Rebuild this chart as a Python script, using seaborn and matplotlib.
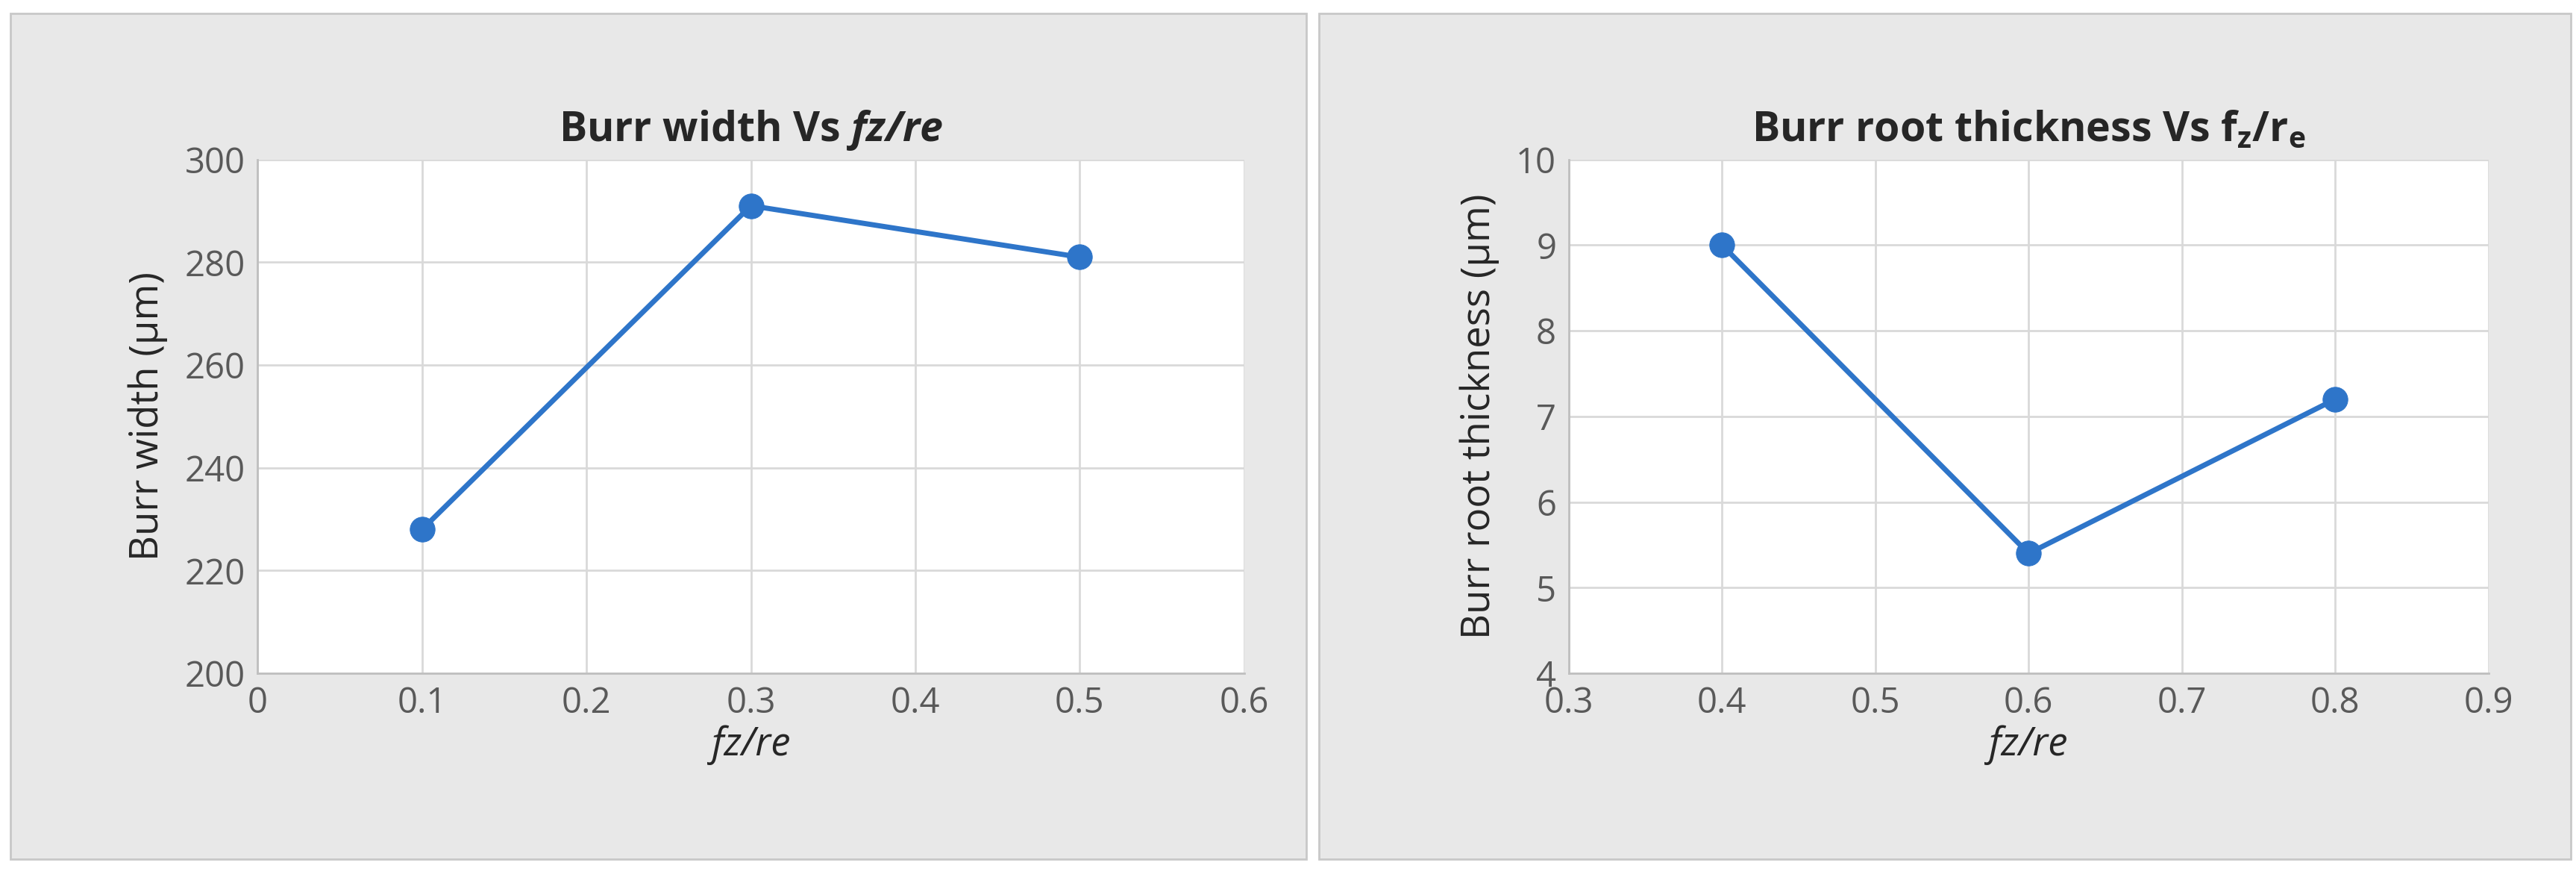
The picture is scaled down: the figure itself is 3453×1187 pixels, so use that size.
import matplotlib
matplotlib.use("Agg")
import matplotlib.pyplot as plt
import seaborn as sns
import pandas as pd
from matplotlib.patches import Rectangle

left_x = [0.1, 0.3, 0.5]
left_y = [228, 291, 281]
right_x = [0.4, 0.6, 0.8]
right_y = [9.0, 5.4, 7.2]

sns.set_theme(style="whitegrid")
plt.rcParams['font.family'] = ['Open Sans', 'DejaVu Sans']
plt.rcParams['mathtext.fontset'] = 'custom'
plt.rcParams['mathtext.rm'] = 'Open Sans'
plt.rcParams['mathtext.it'] = 'Open Sans:italic'
plt.rcParams['mathtext.bf'] = 'Open Sans:bold'
plt.rcParams['mathtext.bfit'] = 'Open Sans:italic:bold'

fig = plt.figure(figsize=(34.53, 11.87), dpi=100)
fig.patch.set_facecolor('white')
for x0, w in [(0.004, 0.503), (0.512, 0.486)]:
    fig.patches.append(Rectangle((x0, 0.03), w, 0.955, transform=fig.transFigure,
                                 facecolor='#e8e8e8', edgecolor='#c8c8c8', lw=2, zorder=-10))

color = '#2e75c9'
tick_col = '#595959'

def setup(ax, xs, ys, xlim, xticks, ylim, yticks, title, ylabel):
    sns.lineplot(x=xs, y=ys, ax=ax, color=color, lw=5, marker='o', markersize=24,
                 markeredgecolor=color)
    ax.set_xlim(*xlim); ax.set_ylim(*ylim)
    ax.set_xticks(xticks); ax.set_yticks(yticks)
    ax.set_xticklabels([f"{t:g}" for t in xticks])
    ax.tick_params(labelsize=34, colors=tick_col, length=0, pad=12)
    ax.grid(True, color='#d9d9d9', lw=2)
    for s in ax.spines.values():
        s.set_visible(False)
    ax.spines['bottom'].set_visible(True); ax.spines['bottom'].set_color('#bfbfbf'); ax.spines['bottom'].set_linewidth(2)
    ax.spines['left'].set_visible(True); ax.spines['left'].set_color('#bfbfbf'); ax.spines['left'].set_linewidth(2)
    ax.set_title(title, fontsize=40, fontweight='bold', pad=18)
    ax.set_ylabel(ylabel, fontsize=38, labelpad=16)
    ax.set_xlabel('fz/re', fontsize=38, style='italic', labelpad=4)
    ax.set_facecolor('white')
    ax.set_zorder(1)

ax1 = fig.add_axes([0.100, 0.24, 0.383, 0.58])
setup(ax1, left_x, left_y, (0, 0.6), [0, 0.1, 0.2, 0.3, 0.4, 0.5, 0.6], (200, 300),
      [200, 220, 240, 260, 280, 300], r"Burr width Vs $\mathbfit{fz/re}$", "Burr width (µm)")
ax2 = fig.add_axes([0.609, 0.24, 0.357, 0.58])
setup(ax2, right_x, right_y, (0.3, 0.9), [0.3, 0.4, 0.5, 0.6, 0.7, 0.8, 0.9], (4, 10),
      [4, 5, 6, 7, 8, 9, 10], r"Burr root thickness Vs f$_\mathbf{z}$/r$_\mathbf{e}$", "Burr root thickness (µm)")

fig.savefig("out.png", dpi=100)
